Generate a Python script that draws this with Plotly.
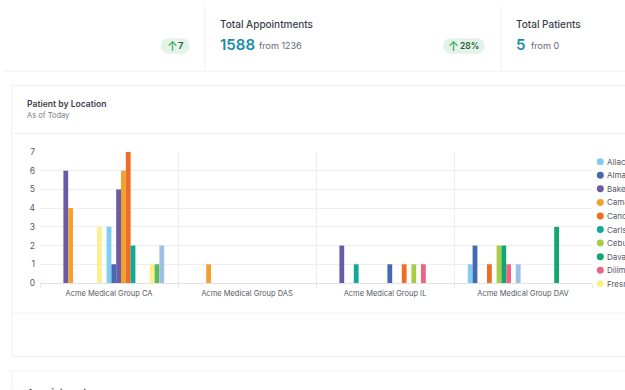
import plotly.graph_objects as go

categories = ["Acme Medical Group CA", "Acme Medical Group DAS", "Acme Medical Group IL", "Acme Medical Group DAV"]
y_ticks = [0, 1, 2, 3, 4, 5, 6, 7]

# Only the first ten legend names are visible in the reference (clipped at the edge).
legend_names = ["Allacapan", "Almaden", "Bakersfield", "Camarillo", "Cancun",
                "Carlsbad", "Cebu", "Davao", "Diliman", "Fresno"]
series_names = legend_names + [f"Location {i}" for i in range(11, 24)]

s01 = [0, 0, 0, 1]
s02 = [0, 0, 0, 2]
s03 = [6, 0, 2, 0]
s04 = [4, 1, 0, 0]
s05 = [0, 0, 0, 1]
s06 = [0, 0, 1, 0]
s07 = [0, 0, 0, 2]
s08 = [0, 0, 0, 2]
s09 = [0, 0, 0, 1]
s10 = [3, 0, 0, 0]
s11 = [0, 0, 0, 1]
s12 = [3, 0, 0, 0]
s13 = [1, 0, 1, 0]
s14 = [5, 0, 0, 0]
s15 = [6, 0, 0, 0]
s16 = [7, 0, 1, 0]
s17 = [2, 0, 0, 0]
s18 = [0, 0, 1, 0]
s19 = [0, 0, 0, 3]
s20 = [0, 0, 1, 0]
s21 = [1, 0, 0, 0]
s22 = [1, 0, 0, 0]
s23 = [2, 0, 0, 0]
series_values = [s01, s02, s03, s04, s05, s06, s07, s08, s09, s10, s11, s12,
                 s13, s14, s15, s16, s17, s18, s19, s20, s21, s22, s23]

colors = ["#7fcdf0", "#4468b2", "#6b5aa6", "#f2a02e", "#ef6c24", "#12a898", "#a8cc48",
          "#10a870", "#ee6384", "#fbf08c", "#9cc0e6", "#7fcdf0", "#4468b2", "#6b5aa6",
          "#f2a02e", "#ef6c24", "#12a898", "#a8cc48", "#10a870", "#ee6384", "#fbf08c",
          "#5cb85c", "#9cc0e6"]

W, H = 625, 390
L, R, T, B = 40.3, 33, 152, 106.7
FONT = "Inter, sans-serif"


def px(x):
    return (x - L) / (W - L - R)


def py(y):
    return 1 - (y - T) / (H - T - B)


fig = go.Figure()
for name, vals, col in zip(series_names, series_values, colors):
    fig.add_trace(go.Bar(name=name, x=categories, y=vals, marker=dict(color=col, line_width=0),
                         showlegend=False))

shapes = []
annotations = []


def line(x0, y0, x1, y1, color="#f0f0f2"):
    shapes.append(dict(type="line", xref="paper", yref="paper", x0=px(x0), y0=py(y0), x1=px(x1), y1=py(y1),
                       line=dict(color=color, width=1), layer="below"))


def text(x, y, s, size, color, weight=400, anchor="left"):
    annotations.append(dict(xref="paper", yref="paper", x=px(x), y=py(y), text=s,
                            showarrow=False, xanchor=anchor, yanchor="middle",
                            font=dict(family=FONT, size=size, color=color, weight=weight),
                            borderpad=0, borderwidth=0))


def pill(x0, x1, y0, y1):
    r = (y1 - y0) / 2
    b0, b1 = py(y0), py(y1)
    shapes.append(dict(type="rect", xref="paper", yref="paper", x0=px(x0 + r), x1=px(x1 - r), y0=b0, y1=b1,
                       fillcolor="#e4f3e9", line_width=0, layer="below"))
    for cx in (x0 + r, x1 - r):
        shapes.append(dict(type="circle", xref="paper", yref="paper", x0=px(cx - r), x1=px(cx + r), y0=b0, y1=b1,
                           fillcolor="#e4f3e9", line_width=0, layer="below"))


# KPI strip
line(5, 71, 625, 71)
line(205, 5, 205, 71)
line(501, 5, 501, 71)
pill(161, 190, 38, 53.5)
pill(443, 485, 38, 53.5)
text(167.5, 45.5, "↑", 13, "#2fa84f")
text(178.5, 45.5, "7", 9.5, "#2c5a3a", 600)
text(448.5, 45.5, "↑", 13, "#2fa84f")
text(460, 45.5, "28%", 8.5, "#2c5a3a", 600)
text(220.5, 24, "Total Appointments", 10, "#3a3f4b", 500)
text(220, 44, "1588", 15, "#1a8ca6", 600)
text(259.5, 45.5, "from 1236", 9, "#666b75")
text(516.5, 24, "Total Patients", 10, "#3a3f4b", 500)
text(516.5, 44, "5", 15, "#1a8ca6", 600)
text(531, 45.5, "from 0", 9, "#666b75")

# Chart card
line(12, 85.5, 625, 85.5)
line(12, 85.5, 12, 357)
line(12, 357, 625, 357)
line(12, 133.5, 625, 133.5)
line(12, 313.5, 625, 313.5)
text(27, 103.5, "Patient by Location", 8.6, "#3a3f4b", 600)
text(27, 115.5, "As of Today", 7.5, "#777c86")

# Next card
line(12, 371.5, 625, 371.5)
line(12, 371.5, 12, 390)
text(27, 393, "Appointments", 9.5, "#3a3f4b", 600)

# Legend (round markers at a tight row pitch, which the native legend cannot do)
for i, (name, col) in enumerate(zip(legend_names, colors)):
    cy = 161.7 + i * 13.6
    shapes.append(dict(type="circle", xref="paper", yref="paper", x0=px(596.8), x1=px(603.8),
                       y0=py(cy - 3.5), y1=py(cy + 3.5), fillcolor=col, line_width=0))
    text(606.5, cy, name, 8, "#555a64")

fig.update_layout(
    width=W, height=H, autosize=False,
    margin=dict(l=L, r=R, t=T, b=B, pad=0),
    barmode="group", bargap=0.2, bargroupgap=0,
    plot_bgcolor="white", paper_bgcolor="white",
    font=dict(family=FONT, size=8.5, color="#555a64"),
    showlegend=False, shapes=shapes, annotations=annotations,
    xaxis=dict(type="category", categoryorder="array", categoryarray=categories, range=[-0.5, 3.5],
               tickson="boundaries", ticks="outside", ticklen=4, tickcolor="#e6e6e8", tickwidth=1,
               ticklabelstandoff=3,
               showgrid=True, gridcolor="#eeeef0", gridwidth=1, showline=True, linecolor="#e2e2e5",
               zeroline=False, tickfont=dict(size=7.5, color="#555a64")),
    yaxis=dict(range=[0, 7], tickmode="array", tickvals=y_ticks, showgrid=True, gridcolor="#eeeef0",
               gridwidth=1, zeroline=False, showline=False, ticks="", ticklen=0, ticklabelstandoff=4,
               tickfont=dict(size=8.5, color="#555a64")),
)

fig.write_html("out.html", config=dict(displayModeBar=False),
               post_script="document.body.style.margin='0';document.documentElement.style.overflow='hidden';document.body.style.overflow='hidden';")
